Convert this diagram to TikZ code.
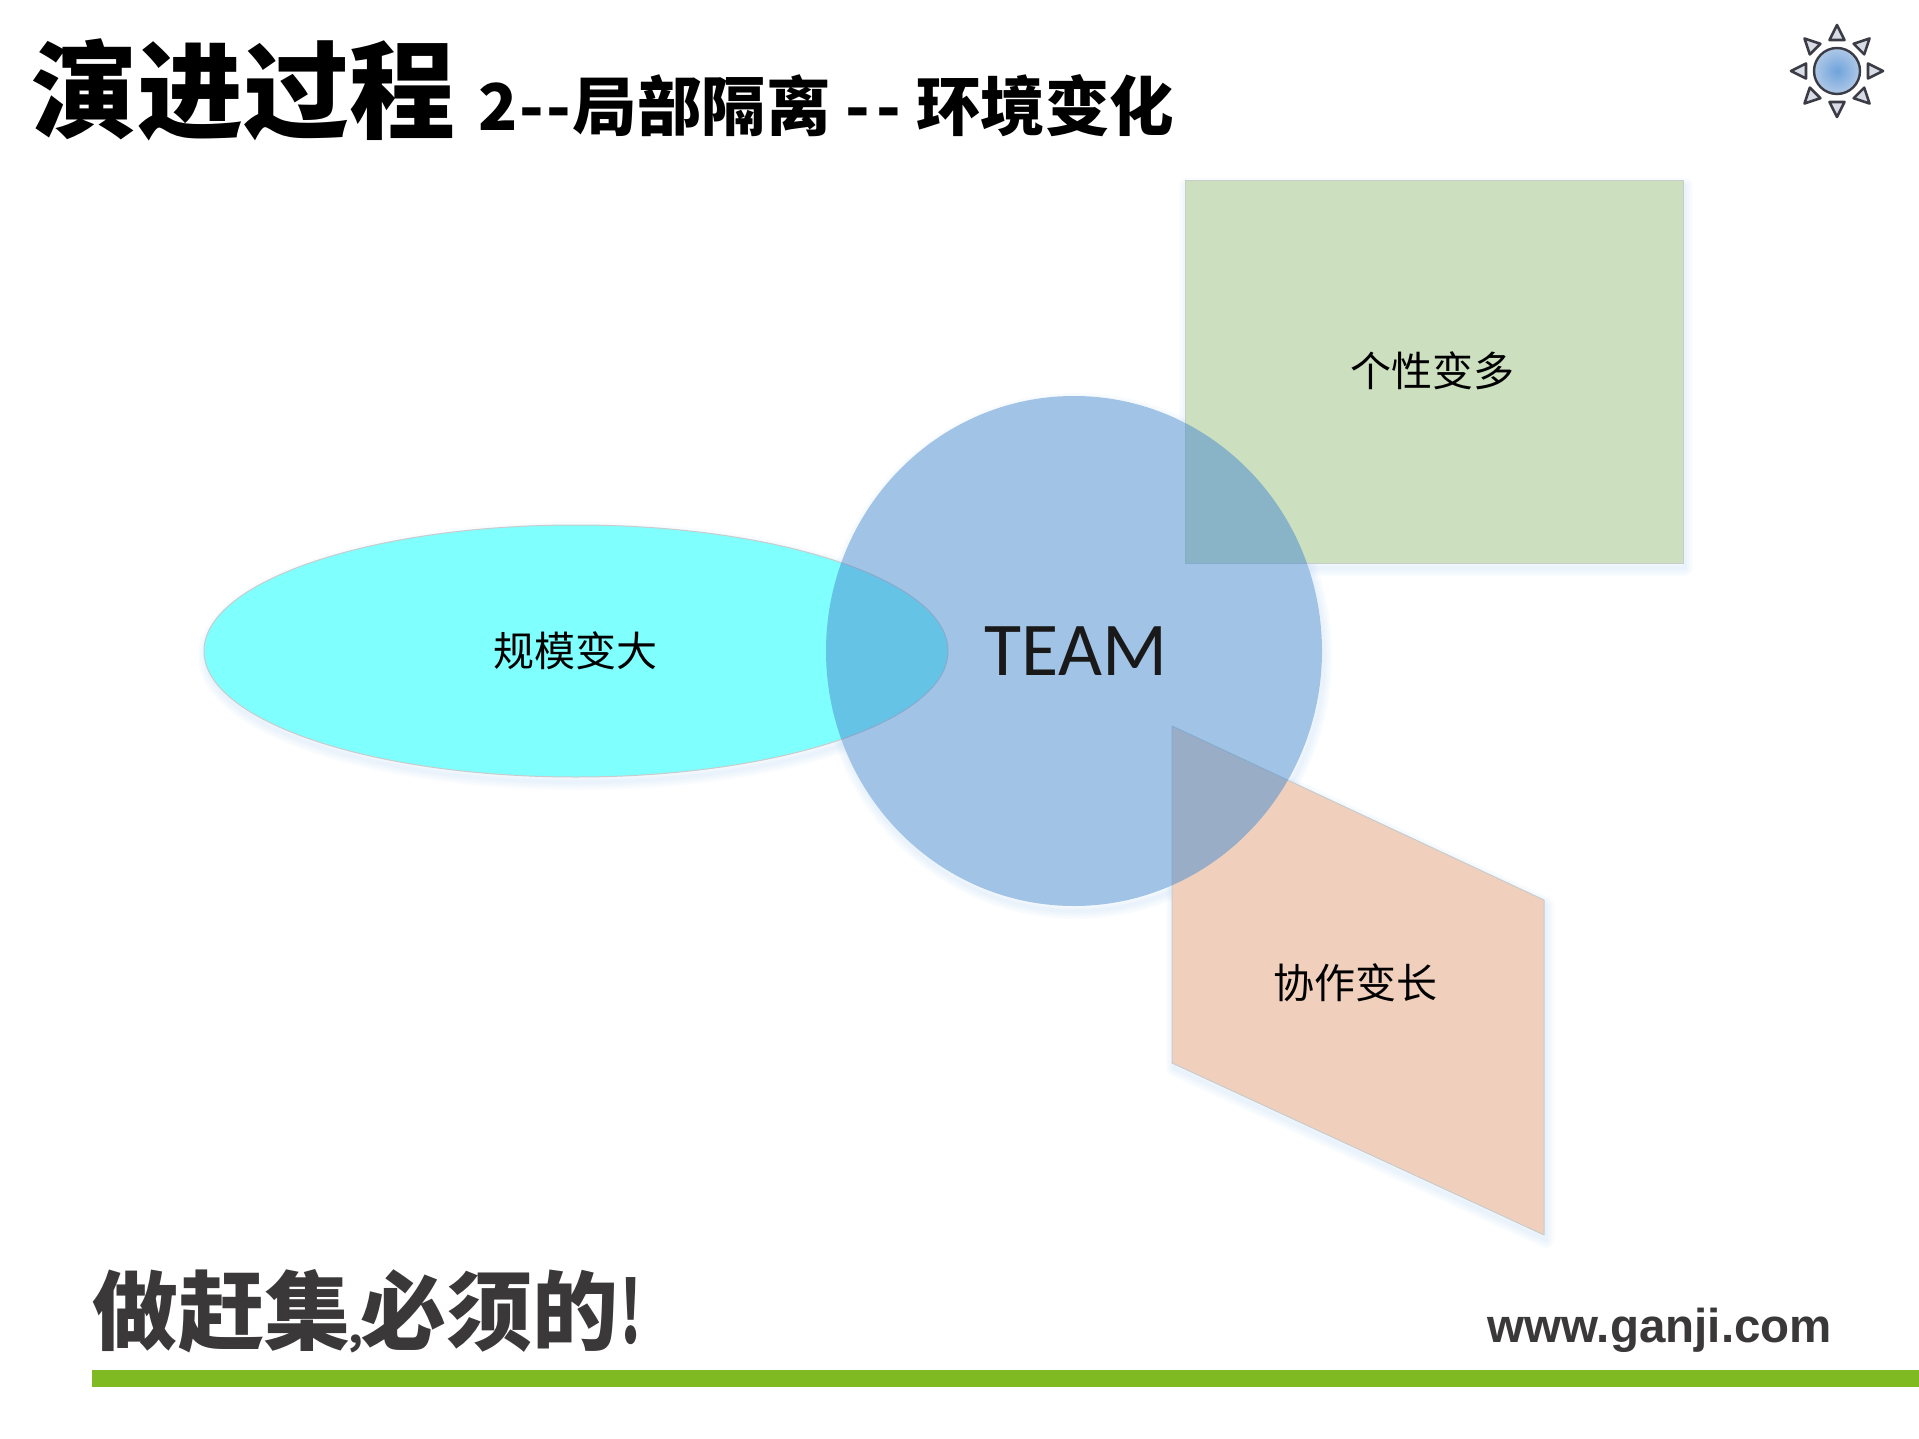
\documentclass[tikz,border=0pt]{standalone}
\usepackage{fontspec}
\setmainfont{Liberation Sans}
\newfontfamily\cjk{Noto Sans CJK SC}
\newfontfamily\cjkblack{Noto Sans CJK SC Black}
\newfontfamily\teamfont{Carlito}
\definecolor{barGreen}{HTML}{7FBA23}
\definecolor{darkText}{HTML}{3A3838}
\definecolor{greenFill}{HTML}{CCE0C0}
\definecolor{cyanFill}{HTML}{80FFFF}
\definecolor{orangeFill}{HTML}{F0D0BC}
\definecolor{blueFill}{HTML}{4F8FD0}
\definecolor{edgeGray}{HTML}{C8CCCC}
\definecolor{shadowBlue}{HTML}{9CC8F0}
\definecolor{sunDark}{HTML}{3C3C46}
\definecolor{sunLight}{HTML}{D8DCE4}
\definecolor{sunIn}{HTML}{6FA3DC}
\definecolor{sunOut}{HTML}{AFC8E6}
\newcommand{\pathRect}{(1185,181) rectangle (1683,563)}
\newcommand{\pathOval}{(576,651) ellipse [x radius=372,y radius=126]}
\newcommand{\pathPara}{(1172,726) -- (1544,900) -- (1544,1235) -- (1172,1063) -- cycle}
\newcommand{\pathRound}{(1074,651) ellipse [x radius=248,y radius=255]}
\tikzset{
  softshadow/.style={draw=shadowBlue,draw opacity=.05,fill=none,line join=round,shift={(2,5)}},
  edgeline/.style={draw=edgeGray,line width=1pt,line join=round},
  lbl/.style={font=\cjk\fontsize{41}{41}\selectfont,text=black,inner sep=0pt},
  ray/.style={draw=sunDark,fill=sunLight,line width=2.6pt,line join=round}
}
\begin{document}
\begin{tikzpicture}[x=1pt,y=-1pt]
\useasboundingbox (0,0) rectangle (1919,1439);
\fill[white] (0,0) rectangle (1919,1439);
% soft shadows
\foreach \w in {4,8,12,16}{
  \path[softshadow,line width=\w pt] \pathRect;
  \path[softshadow,line width=\w pt] \pathOval;
  \path[softshadow,line width=\w pt] \pathPara;
  \path[softshadow,line width=\w pt] \pathRound;
}
\fill[white] \pathRound;
% shapes
\path[fill=greenFill,edgeline] \pathRect;
\path[fill=cyanFill,edgeline] \pathOval;
\path[fill=orangeFill,edgeline] \pathPara;
\path[fill=blueFill,fill opacity=.535] \pathRound;
% labels
\node[lbl] (personality) at (1432,371) {个性变多};
\node[lbl] (scale) at (575,651) {规模变大};
\node[lbl] (collab) at (1355,983) {协作变长};
\node[font=\teamfont\fontsize{76}{76}\selectfont,text=black!90,inner sep=0pt] (team) at (1076,651) {TEAM};
% title
\node[font=\cjkblack\fontsize{106}{106}\selectfont,text=black,inner sep=0pt,anchor=west] (title) at (31,90) {演进过程};
\node[font=\cjkblack\fontsize{64.5}{64.5}\selectfont,text=black,inner sep=0pt,anchor=west] (subtitle) at (478,106) {2\hspace{2pt}-\hspace{2pt}-\hspace{2pt}局部隔离\hspace{15pt}-\hspace{6pt}-\hspace{15pt}环境变化};
% footer
\node[font=\cjkblack\fontsize{86}{86}\selectfont,text=darkText,inner sep=0pt,anchor=west] (slogan) at (92,1311) {做赶集\hspace{-2pt}{\fontsize{42}{42}\selectfont,}\hspace{-2pt}必须的\hspace{2pt}\scalebox{.62}[1]{!}};
\node[font=\bfseries\fontsize{47.5}{47.5}\selectfont,text=darkText,inner sep=0pt,anchor=base east] (url) at (1832,1342) {www.ganji.com};
\fill[barGreen] (92,1370) rectangle (1919,1387);
% sun
\foreach \a in {0,45,...,315}{
  \path[ray,shift={(1837,71)},rotate=\a] (31,-7.5) -- (46,0) -- (31,7.5) -- cycle;
}
\path[inner color=sunIn,outer color=sunOut,draw=sunDark,line width=2.4pt] (1837,71) circle (23);
\end{tikzpicture}
\end{document}
